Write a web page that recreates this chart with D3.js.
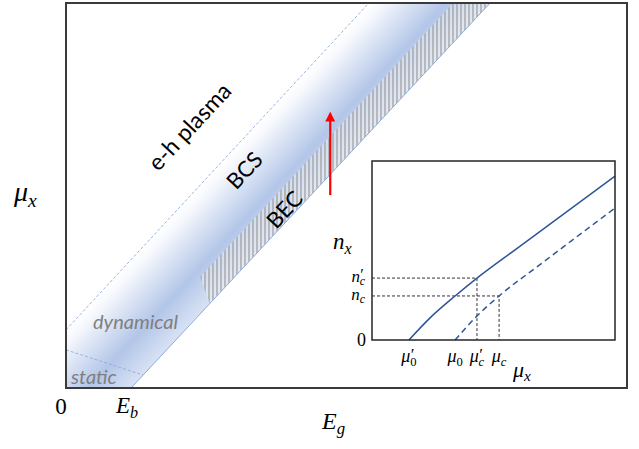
<!DOCTYPE html>
<html lang="en">
<head>
<meta charset="UTF-8">
<title>Exciton phase diagram</title>
<style>
  body { margin: 0; background: #fff; }
  .math { font-family: "Liberation Serif", serif; font-style: italic; }
  .lbl { font-family: "Lato", "Open Sans", sans-serif; }
</style>
</head>
<body>
<svg id="svg" width="639" height="449"></svg>
<script src="https://d3js.org/d3.v7.min.js"></script>
<script>
// main diagram, arbitrary units: Eg on x, mu_x on y
const Eb = 1.16
const bandUpper = [[0, 1.51], [5.40, 10]]        // dashed edge (e-h plasma side)
const bandLower = [[Eb, 0], [7.56, 10]]          // solid edge, starts at Eb
const hatchArea = [[2.39, 2.88], [6.90, 10], [7.56, 10], [2.56, 2.20]]
const staticLine = [[0, 0.99], [1.37, 0.34]]
const arrowPts = [[4.71, 5.01], [4.71, 7.05]]

// inset: n_x versus mu_x
const solidCurve = [[1.52, 0], [2.4, 1.25], [3.42, 2.46], [4.32, 3.46], [6, 5.15], [10, 9.16]]
const dashedCurve = [[3.42, 0], [4.32, 1.34], [5.23, 2.46], [7, 4.3], [10, 7.37]]
const muTicks = [
  { v: 1.52, base: 'μ', sub: '0', prime: true },
  { v: 3.42, base: 'μ', sub: '0', prime: false },
  { v: 4.32, base: 'μ', sub: 'c', prime: true },
  { v: 5.23, base: 'μ', sub: 'c', prime: false }
]
const nTicks = [
  { v: 3.46, base: 'n', sub: 'c', prime: true },
  { v: 2.46, base: 'n', sub: 'c', prime: false }
]

const svg = d3.select('#svg')

const x = d3.scaleLinear().domain([0, 10]).range([66, 627])
const y = d3.scaleLinear().domain([0, 10]).range([388, 3])

const defs = svg.append('defs')
defs.append('clipPath').attr('id', 'frameClip')
  .append('rect')
  .attr('x', x(0)).attr('y', y(10))
  .attr('width', x(10) - x(0)).attr('height', y(0) - y(10))

// gradient across the band, perpendicular to its edges
const p0 = [x(bandUpper[0][0]), y(bandUpper[0][1])]
const u = [x(bandLower[1][0]) - x(bandLower[0][0]), y(bandLower[1][1]) - y(bandLower[0][1])]
const ul = Math.hypot(u[0], u[1])
const nrm = [-u[1] / ul, u[0] / ul]
const q = [x(bandLower[0][0]) - p0[0], y(bandLower[0][1]) - p0[1]]
const dist = q[0] * nrm[0] + q[1] * nrm[1]
const grad = defs.append('linearGradient').attr('id', 'bandGrad')
  .attr('gradientUnits', 'userSpaceOnUse')
  .attr('x1', p0[0]).attr('y1', p0[1])
  .attr('x2', p0[0] + nrm[0] * dist).attr('y2', p0[1] + nrm[1] * dist)
grad.append('stop').attr('offset', 0).attr('stop-color', '#ffffff')
grad.append('stop').attr('offset', 0.1).attr('stop-color', '#f7f9fd')
grad.append('stop').attr('offset', 0.64).attr('stop-color', '#b3c6e8')
grad.append('stop').attr('offset', 1).attr('stop-color', '#d8e2f4')

const pat = defs.append('pattern').attr('id', 'hatch')
  .attr('patternUnits', 'userSpaceOnUse').attr('width', 4).attr('height', 8)
pat.append('rect').attr('width', 4).attr('height', 8).attr('fill', '#f2f2f2').attr('opacity', 0.45)
pat.append('line').attr('x1', 1).attr('x2', 1).attr('y1', 0).attr('y2', 8)
  .attr('stroke', '#9a9a9a').attr('stroke-width', 1.2)

const line = d3.line().x(d => x(d[0])).y(d => y(d[1]))

const g = svg.append('g').attr('clip-path', 'url(#frameClip)')
const bandPoly = [[0, 0], bandUpper[0], bandUpper[1], bandLower[1], bandLower[0]]
g.append('path').attr('d', line(bandPoly) + 'Z').attr('fill', 'url(#bandGrad)')
g.append('path').attr('d', line(hatchArea) + 'Z').attr('fill', 'url(#hatch)')
g.append('path').attr('d', line(bandUpper)).attr('fill', 'none')
  .attr('stroke', '#8faadc').attr('stroke-width', 0.9).attr('stroke-dasharray', '3,2')
g.append('path').attr('d', line(bandLower)).attr('fill', 'none')
  .attr('stroke', '#8faadc').attr('stroke-width', 1)
g.append('path').attr('d', line(staticLine)).attr('fill', 'none')
  .attr('stroke', '#8faadc').attr('stroke-width', 0.9).attr('stroke-dasharray', '3,2')

// region labels
const ang = -Math.atan2(-u[1], u[0]) * 180 / Math.PI
const rot = [
  { t: 'e-h plasma', px: 189, py: 126, fs: 23 },
  { t: 'BCS', px: 244, py: 170, fs: 22 },
  { t: 'BEC', px: 284, py: 209, fs: 22 }
]
svg.selectAll('.rl').data(rot).enter().append('text')
  .attr('class', 'lbl')
  .attr('transform', d => `translate(${d.px},${d.py}) rotate(${ang})`)
  .attr('text-anchor', 'middle').attr('dominant-baseline', 'central')
  .attr('font-size', d => d.fs).attr('fill', '#000').text(d => d.t)

svg.append('text').attr('class', 'lbl').attr('x', 93).attr('y', 329)
  .attr('font-size', 20).style('font-style', 'italic').attr('fill', '#7f7f7f').text('dynamical')
svg.append('text').attr('class', 'lbl').attr('x', 71).attr('y', 384)
  .attr('font-size', 20).style('font-style', 'italic').attr('fill', '#7f7f7f').text('static')

// red arrow
defs.append('marker').attr('id', 'arrowHead')
  .attr('viewBox', '0 0 10 10').attr('refX', 5).attr('refY', 5)
  .attr('markerWidth', 4.5).attr('markerHeight', 4.5).attr('orient', 'auto')
  .append('path').attr('d', 'M0,0 L10,5 L0,10 Z').attr('fill', '#ff0000')
svg.append('path').attr('d', line(arrowPts)).attr('stroke', '#ff0000')
  .attr('stroke-width', 2.2).attr('marker-end', 'url(#arrowHead)')

// main frame
svg.append('rect').attr('x', x(0)).attr('y', y(10))
  .attr('width', x(10) - x(0)).attr('height', y(0) - y(10))
  .attr('fill', 'none').attr('stroke', '#3a3a3a').attr('stroke-width', 2)

// math-style labels with optional prime and subscript
function mathLabel(parent, px, py, size, base, sub, prime, anchor) {
  const t = parent.append('text').attr('class', 'math').attr('x', px).attr('y', py)
    .attr('font-size', size).attr('text-anchor', anchor || 'start').attr('fill', '#000')
  t.append('tspan').text(base)
  const subStyle = sub === '0' ? 'normal' : 'italic'
  if (prime) {
    t.append('tspan').style('font-style', 'normal').attr('font-size', size * 0.95)
      .attr('dx', size * 0.02).attr('dy', -size * 0.12).text('′')
    t.append('tspan').style('font-style', subStyle).attr('font-size', size * 0.7)
      .attr('dx', -size * 0.24).attr('dy', size * 0.32).text(sub)
  } else if (sub) {
    t.append('tspan').style('font-style', subStyle).attr('font-size', size * 0.7)
      .attr('dy', size * 0.2).text(sub)
  }
  return t
}
mathLabel(svg, 14, 201, 28, 'μ', 'x', false)
svg.append('text').attr('class', 'math').style('font-style', 'normal')
  .attr('x', 61).attr('y', 414).attr('font-size', 23).attr('text-anchor', 'middle').text('0')
mathLabel(svg, 116, 413, 23, 'E', 'b', false)
mathLabel(svg, 322, 429, 24, 'E', 'g', false)

// inset
const ix = d3.scaleLinear().domain([0, 10]).range([372, 615])
const iy = d3.scaleLinear().domain([0, 10]).range([340, 161])
const ins = svg.append('g')
ins.append('rect').attr('x', ix(0)).attr('y', iy(10))
  .attr('width', ix(10) - ix(0)).attr('height', iy(0) - iy(10))
  .attr('fill', '#fff')

const iline = d3.line().x(d => ix(d[0])).y(d => iy(d[1])).curve(d3.curveMonotoneX)

// guide lines to the critical points
const guides = [[4.32, 3.46], [5.23, 2.46]]
guides.forEach(d => {
  ins.append('path').attr('d', d3.line()([[ix(0), iy(d[1])], [ix(d[0]), iy(d[1])], [ix(d[0]), iy(0)]]))
    .attr('fill', 'none').attr('stroke', '#333').attr('stroke-width', 1)
    .attr('stroke-dasharray', '3,2')
})

ins.append('path').attr('d', iline(solidCurve)).attr('fill', 'none')
  .attr('stroke', '#2f5597').attr('stroke-width', 1.5)
ins.append('path').attr('d', iline(dashedCurve)).attr('fill', 'none')
  .attr('stroke', '#2f5597').attr('stroke-width', 1.5).attr('stroke-dasharray', '6,4')

ins.append('rect').attr('x', ix(0)).attr('y', iy(10))
  .attr('width', ix(10) - ix(0)).attr('height', iy(0) - iy(10))
  .attr('fill', 'none').attr('stroke', '#262626').attr('stroke-width', 1.5)

// inset tick labels
muTicks.forEach(d => mathLabel(ins, ix(d.v), 362, 18, d.base, d.sub, d.prime, 'middle'))
nTicks.forEach(d => mathLabel(ins, 365, iy(d.v) + 4, 17, d.base, d.sub, d.prime, 'end'))
ins.append('text').attr('class', 'math').style('font-style', 'normal')
  .attr('x', 366).attr('y', iy(0) + 6).attr('font-size', 18).attr('text-anchor', 'end').text('0')
mathLabel(ins, 333, 249, 23, 'n', 'x', false)
mathLabel(ins, 513, 377, 22, 'μ', 'x', false)
</script>
</body>
</html>
